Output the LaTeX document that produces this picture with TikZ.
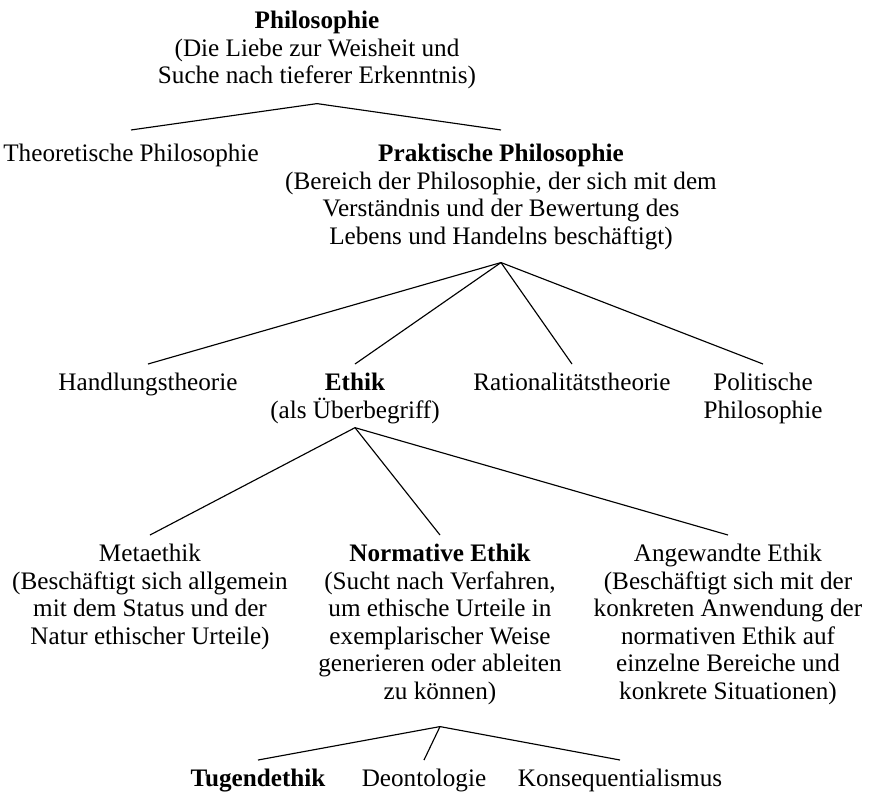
\documentclass[tikz,border=0pt]{standalone}
\usepackage{fontspec}
\setmainfont{Liberation Serif}
\usepackage{tikz}

\begin{document}
\begin{tikzpicture}[
            x=0.01535cm, y=-0.01535cm,
            term/.style={align=center, inner sep=0pt, outer sep=4pt, anchor=north, font=\fontsize{11}{12}\selectfont},
            branch/.style={draw=black, line width=0.5pt}
        ]
            \useasboundingbox (0,0) rectangle (871,796);

            % Root
            \node[term] (root) at (317,2) {\textbf{Philosophie}\\(Die Liebe zur Weisheit und\\Suche nach tieferer Erkenntnis)};

            % Second level
            \node[term] (theo) at (131,135) {Theoretische Philosophie};
            \node[term] (prakt) at (501,135) {\textbf{Praktische Philosophie}\\(Bereich der Philosophie, der sich mit dem\\Verständnis und der Bewertung des\\Lebens und Handelns beschäftigt)};

            \draw[branch] ([yshift=-2.4pt]root.south) -- ([yshift=2.2pt]theo.north);
            \draw[branch] ([yshift=-2.4pt]root.south) -- ([yshift=2.2pt]prakt.north);

            % Branches of practical philosophy
            \node[term] (handlung) at (148,364) {Handlungstheorie};
            \node[term] (ethik) at (355,364) {\textbf{Ethik}\\(als Überbegriff)};
            \node[term] (rational) at (572,364) {Rationalitätstheorie};
            \node[term] (politik) at (763,364) {Politische\\Philosophie};

            \draw[branch] ([yshift=-1.7pt]prakt.south) -- (handlung.north);
            \draw[branch] ([yshift=-1.7pt]prakt.south) -- (ethik.north);
            \draw[branch] ([yshift=-1.7pt]prakt.south) -- (rational.north);
            \draw[branch] ([yshift=-1.7pt]prakt.south) -- (politik.north);

            % Branches of ethics
            \node[term] (meta) at (150,535) {Metaethik\\(Beschäftigt sich allgemein\\mit dem Status und der\\Natur ethischer Urteile)};
            \node[term] (normativ) at (440,535) {\textbf{Normative Ethik}\\(Sucht nach Verfahren,\\um ethische Urteile in\\exemplarischer Weise\\generieren oder ableiten\\zu können)};
            \node[term] (angewandt) at (728,535) {Angewandte Ethik\\(Beschäftigt sich mit der\\konkreten Anwendung der\\normativen Ethik auf\\einzelne Bereiche und\\konkrete Situationen)};

            \draw[branch] ([yshift=2.2pt]ethik.south) -- (meta.north);
            \draw[branch] ([yshift=2.2pt]ethik.south) -- (normativ.north);
            \draw[branch] ([yshift=2.2pt]ethik.south) -- (angewandt.north);

            % Normative theories
            \node[term] (tugend) at (258,760) {\textbf{Tugendethik}};
            \node[term] (deonto) at (424,760) {Deontologie};
            \node[term] (konseq) at (620,760) {Konsequentialismus};

            \draw[branch] ([yshift=-5.7pt]normativ.south) -- (tugend.north);
            \draw[branch] ([yshift=-5.7pt]normativ.south) -- (deonto.north);
            \draw[branch] ([yshift=-5.7pt]normativ.south) -- (konseq.north);

        \end{tikzpicture}
\end{document}
